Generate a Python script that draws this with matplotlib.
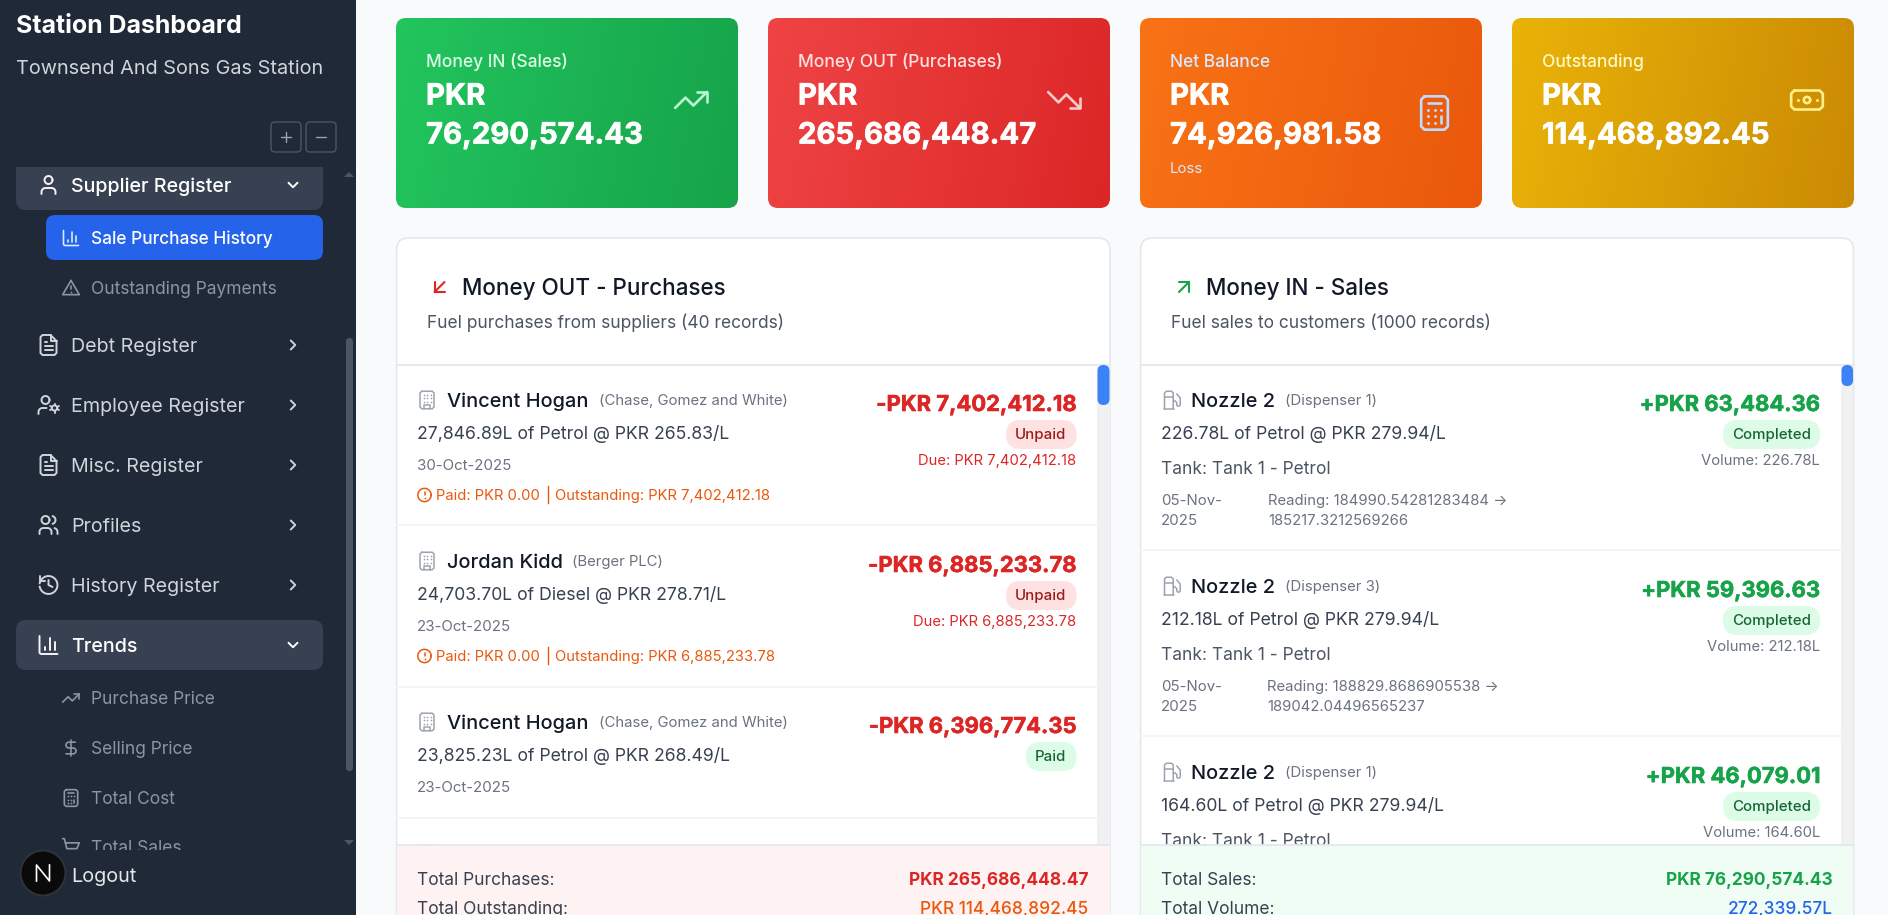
import numpy as np
import matplotlib
matplotlib.use("Agg")
import matplotlib.pyplot as plt
import matplotlib.patheffects as pe
from matplotlib.patches import FancyBboxPatch, Rectangle, Circle

plt.rcParams['font.family'] = ['Inter', 'DejaVu Sans']

# ---- values ----
card_labels = ["Money IN (Sales)", "Money OUT (Purchases)", "Net Balance", "Outstanding"]
card_values = ["76,290,574.43", "265,686,448.47", "74,926,981.58", "114,468,892.45"]
card_notes = ["", "", "Loss", ""]
card_icons = ["up", "down", "calc", "note"]
card_colors = [("#22c55e", "#16a34a"), ("#ef4444", "#dc2626"), ("#f97316", "#ea580c"), ("#eab308", "#ca8a04")]
card_label_colors = ["#dcfce7", "#fee2e2", "#dbeafe", "#fef9c3"]
card_icon_colors = ["#bbf7d0", "#fecaca", "#bfdbfe", "#fef08a"]

menu_items = ["Debt Register", "Employee Register", "Misc. Register", "Profiles", "History Register"]
menu_y = [345, 405, 465, 525, 585]
menu_icons = ["file", "usercog", "file", "users", "history"]
trend_items = ["Purchase Price", "Selling Price", "Total Cost", "Total Sales"]
trend_y = [698, 748, 798, 847]
trend_icons = ["up", "dollar", "calc", "cart"]

buy_names = ["Vincent Hogan", "Jordan Kidd", "Vincent Hogan"]
buy_companies = ["(Chase, Gomez and White)", "(Berger PLC)", "(Chase, Gomez and White)"]
buy_company_x = [599.5, 573, 599.5]
buy_details = ["27,846.89L of Petrol @ PKR 265.83/L", "24,703.70L of Diesel @ PKR 278.71/L",
               "23,825.23L of Petrol @ PKR 268.49/L"]
buy_dates = ["30-Oct-2025", "23-Oct-2025", "23-Oct-2025"]
buy_amounts = ["-PKR 7,402,412.18", "-PKR 6,885,233.78", "-PKR 6,396,774.35"]
buy_status = ["Unpaid", "Unpaid", "Paid"]
buy_due = ["Due: PKR 7,402,412.18", "Due: PKR 6,885,233.78", ""]
buy_outstanding = ["Outstanding: PKR 7,402,412.18", "Outstanding: PKR 6,885,233.78", ""]
buy_separators = [525, 686.5, 817.5]

sale_names = ["Nozzle 2", "Nozzle 2", "Nozzle 2"]
sale_dispensers = ["(Dispenser 1)", "(Dispenser 3)", "(Dispenser 1)"]
sale_details = ["226.78L of Petrol @ PKR 279.94/L", "212.18L of Petrol @ PKR 279.94/L",
                "164.60L of Petrol @ PKR 279.94/L"]
sale_tanks = ["Tank: Tank 1 - Petrol"] * 3
sale_amounts = ["+PKR 63,484.36", "+PKR 59,396.63", "+PKR 46,079.01"]
sale_volumes = ["Volume: 226.78L", "Volume: 212.18L", "Volume: 164.60L"]
sale_reading_a = ["Reading: 184990.54281283484 \u2192", "Reading: 188829.8686905538 \u2192", ""]
sale_reading_b = ["185217.3212569266", "189042.04496565237", ""]
sale_reading_x = [1269, 1267.5, 1269]

SIDE = "#1f2937"
GREEN = "#16a34a"
RED = "#dc2626"
ORANGE = "#ea580c"

fig = plt.figure(figsize=(18.88, 9.15), dpi=100, facecolor="#f9fafb")
ax = fig.add_axes([0, 0, 1, 1])
ax.set_xlim(0, 1888)
ax.set_ylim(915, 0)
ax.axis("off")


def txt(x, y, s, px, color, weight="normal", ha="left", z=3, heavy=0):
    # small text sits a touch low with center_baseline
    if px < 18:
        y -= 0.8
    t = ax.text(x, y, s, fontsize=px * 0.72, color=color, fontweight=weight, ha=ha,
                va="center_baseline", zorder=z)
    if heavy:
        t.set_path_effects([pe.withStroke(linewidth=heavy, foreground=color)])
    return t


def rect(x0, y0, x1, y1, color, z=2):
    ax.add_patch(Rectangle((x0, y0), x1 - x0, y1 - y0, fc=color, ec="none", zorder=z))


def rrect(x0, y0, x1, y1, r, fc, ec="none", lw=0, z=2):
    p = FancyBboxPatch((x0 + r, y0 + r), x1 - x0 - 2 * r, y1 - y0 - 2 * r,
                       boxstyle="round,pad=%g,rounding_size=%g" % (r, r), fc=fc, ec=ec, lw=lw, zorder=z)
    ax.add_patch(p)
    return p


def arc(cx, cy, r, a0, a1):
    t = np.radians(np.linspace(a0, a1, 24))
    return list(zip(cx + r * np.cos(t), cy + r * np.sin(t)))


# icons on a 24 unit grid, each is a list of polylines, a single point is a dot
ICONS = {
    "up": [[(22, 7), (13.5, 15.5), (8.5, 10.5), (2, 17)], [(16, 7), (22, 7), (22, 13)]],
    "down": [[(22, 17), (13.5, 8.5), (8.5, 13.5), (2, 7)], [(16, 17), (22, 17), (22, 11)]],
    "calc": [[(6, 2), (18, 2), (20, 4), (20, 20), (18, 22), (6, 22), (4, 20), (4, 4), (6, 2)], [(8, 6), (16, 6)],
             [(16, 14), (16, 18)], [(8, 10)], [(12, 10)], [(16, 10)], [(8, 14)], [(12, 14)], [(8, 18)], [(12, 18)]],
    "note": [[(4, 6), (20, 6), (22, 8), (22, 16), (20, 18), (4, 18), (2, 16), (2, 8), (4, 6)],
             arc(12, 12, 2, 0, 360), [(6, 12)], [(18, 12)]],
    "sw": [[(17, 7), (7, 17)], [(17, 17), (7, 17), (7, 7)]],
    "ne": [[(7, 17), (17, 7)], [(7, 7), (17, 7), (17, 17)]],
    "building": [[(6, 2), (18, 2), (20, 4), (20, 20), (18, 22), (6, 22), (4, 20), (4, 4), (6, 2)],
                 [(9, 22), (9, 18), (15, 18), (15, 22)],
                 [(8, 6)], [(12, 6)], [(16, 6)], [(8, 10)], [(12, 10)], [(16, 10)], [(8, 14)], [(12, 14)], [(16, 14)]],
    "fuel": [[(3, 22), (15, 22)], [(4, 9), (14, 9)],
             [(4, 22), (4, 4), (6, 2), (12, 2), (14, 4), (14, 22)],
             [(14, 13), (16, 13), (18, 15), (18, 17)] + arc(20, 17, 2, 180, 0) + [(22, 9.8), (18, 5)]],
    "user": [arc(12, 7, 4, 0, 360), [(19, 21), (19, 19)] + arc(15, 19, 4, 0, -90) + [(9, 15)] + arc(9, 19, 4, -90, -180) + [(5, 21)]],
    "bars": [[(3, 3), (3, 19)] + arc(5, 19, 2, 180, 90) + [(21, 21)], [(8, 17), (8, 14)], [(13, 17), (13, 5)], [(18, 17), (18, 9)]],
    "warn": [[(12, 3), (22, 20), (2, 20), (12, 3)], [(12, 9), (12, 13)], [(12, 17)]],
    "file": [[(14, 2), (6, 2), (4, 4), (4, 20), (6, 22), (18, 22), (20, 20), (20, 8), (14, 2)], [(14, 2), (14, 8), (20, 8)],
             [(8, 9), (10, 9)], [(8, 13), (16, 13)], [(8, 17), (16, 17)]],
    "usercog": [arc(9, 7, 4, 0, 360), [(2, 21), (2, 19)] + arc(6, 19, 4, 180, 270) + [(10, 15)], arc(18, 15, 2.6, 0, 360),
                [(18, 10.5), (18, 12)], [(18, 18), (18, 19.5)], [(13.6, 13), (15.2, 13.9)], [(20.8, 16.1), (22.4, 17)],
                [(13.6, 17), (15.2, 16.1)], [(20.8, 13.9), (22.4, 13)]],
    "users": [arc(9, 7, 4, 0, 360), [(3, 21), (3, 19)] + arc(7, 19, 4, 180, 270) + arc(11, 19, 4, 270, 360) + [(15, 21)],
              arc(15, 7, 4, -75, 75), [(21, 21), (21, 19)] + arc(17, 19, 4, 0, -75)],
    "history": [arc(12, 12, 9, 190, 530), [(3, 3), (3, 8), (8, 8)], [(12, 7), (12, 12), (16, 14)]],
    "dollar": [[(12, 2), (12, 22)], [(17, 5), (9.5, 5)] + arc(9.5, 8.5, 3.5, 270, 90) + [(14.5, 12)] + arc(14.5, 15.5, 3.5, -90, 90) + [(6, 19)]],
    "cart": [[(2, 2), (4, 2), (7, 14), (19, 14), (22, 7), (5.5, 7)]],
    "alert": [arc(12, 12, 10, 0, 360), [(12, 8), (12, 12)], [(12, 16)]],
    "chev_d": [[(6, 9), (12, 15), (18, 9)]],
    "chev_r": [[(9, 18), (15, 12), (9, 6)]],
    "plus": [[(5, 12), (19, 12)], [(12, 5), (12, 19)]],
    "minus": [[(5, 12), (19, 12)]],
}


def icon(name, cx, cy, size, color, lw=1.4, z=3):
    k = size / 24.0
    for pts in ICONS[name]:
        pts = np.array(pts)
        x = cx + (pts[:, 0] - 12) * k
        y = cy + (pts[:, 1] - 12) * k
        if len(pts) == 1:
            ax.plot(x, y, "o", color=color, ms=lw * 1.1, mew=0, zorder=z)
        else:
            ax.plot(x, y, color=color, lw=lw, zorder=z, solid_capstyle="round", solid_joinstyle="round")


def gradient_card(x0, y0, x1, y1, c0, c1):
    box = rrect(x0, y0, x1, y1, 10, "none", z=1)
    h, w = int(y1 - y0), int(x1 - x0)
    yy, xx = np.mgrid[0:h, 0:w]
    # mostly left to right with a small tilt
    t = 0.9 * xx / w + 0.1 * yy / h
    a = np.array(matplotlib.colors.to_rgb(c0))
    b = np.array(matplotlib.colors.to_rgb(c1))
    img = a[None, None, :] + (b - a)[None, None, :] * t[:, :, None]
    im = ax.imshow(img, extent=(x0, x1, y1, y0), aspect="auto", zorder=1.5, interpolation="bilinear")
    im.set_clip_path(box)


# ---- sidebar ----
rect(0, 0, 356, 915, SIDE, z=1)
txt(16.5, 24, "Station Dashboard", 24.9, "white", "bold", z=5)
txt(16.5, 67, "Townsend And Sons Gas Station", 19.9, "#d1d5db", z=5)

rrect(16, 145, 323, 210, 10, "#374151")
icon("user", 48.5, 185, 24, "#f3f4f6")
txt(70.8, 185, "Supplier Register", 19.7, "white", 500)
icon("chev_d", 293, 185, 18, "white")

rrect(46, 215, 323, 260, 9, "#2563eb")
icon("bars", 71, 238, 20, "#dbeafe", 1.2)
txt(90.8, 238, "Sale Purchase History", 17.3, "white", 500)
icon("warn", 71, 288, 20, "#8b95a5", 1.2)
txt(90.8, 288, "Outstanding Payments", 17.4, "#8b95a5")

for name, y, ic in zip(menu_items, menu_y, menu_icons):
    icon(ic, 48.5, y, 24, "#d1d5db")
    txt(70.8, y, name, 19.7, "#d1d5db")
    icon("chev_r", 293, y, 18, "#d1d5db")

rrect(16, 620, 323, 670, 10, "#374151")
icon("bars", 48.5, 645, 24, "#f3f4f6")
txt(70.8, 645, "Trends", 19.7, "white", 500)
icon("chev_d", 293, 645, 18, "white")

for name, y, ic in zip(trend_items, trend_y, trend_icons):
    icon(ic, 71, y, 20, "#8b95a5", 1.2)
    txt(90.8, y, name, 17.4, "#8b95a5")

# scrolled content gets cut off here
rect(0, 130, 345, 167, SIDE, z=4)
rect(0, 850, 345, 915, SIDE, z=4)

for x0, x1, ic in [(271, 301, "plus"), (306, 336, "minus")]:
    rrect(x0, 122, x1, 152, 4, "none", "#4b5563", 1.0, z=5)
    icon(ic, (x0 + x1) / 2, 137, 17, "#9ca3af", 1.0, z=5)

rrect(346, 338, 353, 771, 3.5, "#4b5563")
ax.fill([344, 354, 349], [177, 177, 172], color="#4b5563", lw=0, zorder=3)
ax.fill([344, 354, 349], [840, 840, 845], color="#4b5563", lw=0, zorder=3)

ax.add_patch(Circle((43, 873), 22.5, fc="#0a0a0a", ec="#2f3236", lw=1.5, zorder=5))
ax.plot([36.5, 36.5, 49.5, 49.5], [881, 865, 881, 865], color="white", lw=1.2, zorder=6)
txt(70.8, 875, "Logout", 19.9, "#e5e7eb", z=5)

# ---- summary cards ----
card_x = [(396, 738), (768, 1110), (1140, 1482), (1512, 1854)]
icon_pos = [(691, 100, 38), (1064, 100, 38), (1434.5, 113, 40), (1807, 100, 38)]
for i in range(4):
    x0, x1 = card_x[i]
    gradient_card(x0, 18, x1, 208, card_colors[i][0], card_colors[i][1])
    txt(x0 + 30, 61, card_labels[i], 17.4, card_label_colors[i], 500)
    txt(x0 + 30, 94, "PKR", 29.3, "white", "bold", heavy=0.5)
    txt(x0 + 30, 133, card_values[i], 29.3, "white", "bold", heavy=0.5)
    if card_notes[i]:
        txt(x0 + 30, 168, card_notes[i], 15, card_label_colors[i])
    cx, cy, s = icon_pos[i]
    icon(card_icons[i], cx, cy, s, card_icon_colors[i], 1.9)

# ---- panels ----
panels = [(396.6, 1110, 1097), (1140.6, 1853.5, 1841)]
for x0, x1, sb in panels:
    rrect(x0, 238, x1, 960, 12, "white", "#e5e7eb", 1.2, z=1)
    ax.plot([x0, x1], [364.7, 364.7], color="#e5e7eb", lw=1.3, zorder=2)
    rect(sb, 365, x1 - 0.5, 845, "#f1f1f1")

rrect(1097.5, 365, 1109.5, 405, 6, "#3b82f6", z=3)
rrect(1841.5, 365, 1853, 386, 5.7, "#3b82f6", z=3)

icon("sw", 439.5, 287, 24, RED, 1.5)
txt(462.4, 287, "Money OUT - Purchases", 22.5, "#111827", 500)
txt(427, 322, "Fuel purchases from suppliers (40 records)", 17.4, "#4b5563")

icon("ne", 1184, 287, 24, GREEN, 1.5)
txt(1206, 287, "Money IN - Sales", 22.5, "#111827", 500)
txt(1171, 322, "Fuel sales to customers (1000 records)", 17.4, "#4b5563")

# purchase rows
for i in range(3):
    off = i * 161
    icon("building", 427, 400 + off, 21, "#9ca3af", 1.1)
    txt(447, 400 + off, buy_names[i], 20, "#111827", 500)
    txt(buy_company_x[i] - 0.5, 400 + off, buy_companies[i], 14.9, "#6b7280")
    txt(1076.6, 403 + off, buy_amounts[i], 22, RED, "bold", ha="right", heavy=0.4)
    txt(417, 432.7 + off, buy_details[i], 17.6, "#374151")
    txt(417, 465 + off, buy_dates[i], 15, "#6b7280")
    if buy_status[i] == "Unpaid":
        rrect(1006, 420 + off, 1076.6, 449 + off, 14.5, "#fee2e2")
        txt(1066.6, 434.5 + off, buy_status[i], 15, "#991b1b", 500, ha="right")
        txt(1076.6, 460 + off, buy_due[i], 14.8, RED, ha="right")
        icon("alert", 424.5, 495 + off, 16, ORANGE, 1.1)
        txt(436.5, 495 + off, "Paid: PKR 0.00", 14.8, ORANGE)
        ax.plot([548, 548], [486 + off, 503 + off], color=ORANGE, lw=1, zorder=3)
        txt(555, 495 + off, buy_outstanding[i], 14.8, ORANGE)
    else:
        rrect(1026, 420 + off, 1076.6, 449 + off, 14.5, "#dcfce7")
        txt(1066.6, 434.5 + off, buy_status[i], 15, "#166534", 500, ha="right")
    ax.plot([397, 1097], [buy_separators[i], buy_separators[i]], color="#f3f4f6", lw=1.3, zorder=2)
# top of the next row peeks out above the footer
icon("building", 427, 854, 21, "#9ca3af", 1.1)

# sale rows
sale_off = [0, 186, 372]
for i in range(3):
    off = sale_off[i]
    icon("fuel", 1171.5, 400 + off, 21, "#9ca3af", 1.1)
    txt(1191, 400 + off, sale_names[i], 20, "#111827", 500)
    txt(1285, 400 + off, sale_dispensers[i], 14.9, "#6b7280")
    txt(1820.5, 403 + off, sale_amounts[i], 22, GREEN, "bold", ha="right", heavy=0.4)
    rrect(1723, 420 + off, 1820, 449 + off, 14.5, "#dcfce7")
    txt(1771.5, 434.5 + off, "Completed", 15, "#166534", 500, ha="center")
    txt(1820, 460 + off, sale_volumes[i], 14.8, "#6b7280", ha="right")
    txt(1161, 432.7 + off, sale_details[i], 17.6, "#374151")
    txt(1161, 468 + off, sale_tanks[i], 17.4, "#4b5563")
    if sale_reading_a[i]:
        txt(1161, 500 + off, "05-Nov-", 15, "#6b7280")
        txt(1161, 520 + off, "2025", 15, "#6b7280")
        txt(sale_reading_x[i] - 0.5, 500 + off, sale_reading_a[i], 14.9, "#6b7280")
        txt(sale_reading_x[i] - 0.5, 520 + off, sale_reading_b[i], 14.9, "#6b7280")
        ax.plot([1141, 1841], [550.3 + off, 550.3 + off], color="#f3f4f6", lw=1.3, zorder=2)

# ---- footers sit on top of the scrolled lists ----
for (x0, x1, sb), col in zip(panels, ["#fef2f2", "#f0fdf4"]):
    rect(x0 + 0.5, 845, x1 - 0.5, 915, col, z=4)
    ax.plot([x0, x1], [845, 845], color="#e5e7eb", lw=1.3, zorder=5)

txt(417, 879, "Total Purchases:", 17.4, "#374151", z=5)
txt(417, 908, "Total Outstanding:", 17.4, "#374151", z=5)
txt(1088.4, 879, "PKR 265,686,448.47", 17.3, RED, "bold", ha="right", z=5)
txt(1088.4, 908, "PKR 114,468,892.45", 17.3, ORANGE, 500, ha="right", z=5)
txt(1161, 879, "Total Sales:", 17.4, "#374151", z=5)
txt(1161, 908, "Total Volume:", 17.4, "#374151", z=5)
txt(1832.5, 879, "PKR 76,290,574.43", 17.3, GREEN, "bold", ha="right", z=5)
txt(1832.5, 908, "272,339.57L", 17.3, "#2563eb", 500, ha="right", z=5)

ax.set_xlim(0, 1888)
ax.set_ylim(915, 0)
fig.savefig("out.png", dpi=100, facecolor=fig.get_facecolor())
